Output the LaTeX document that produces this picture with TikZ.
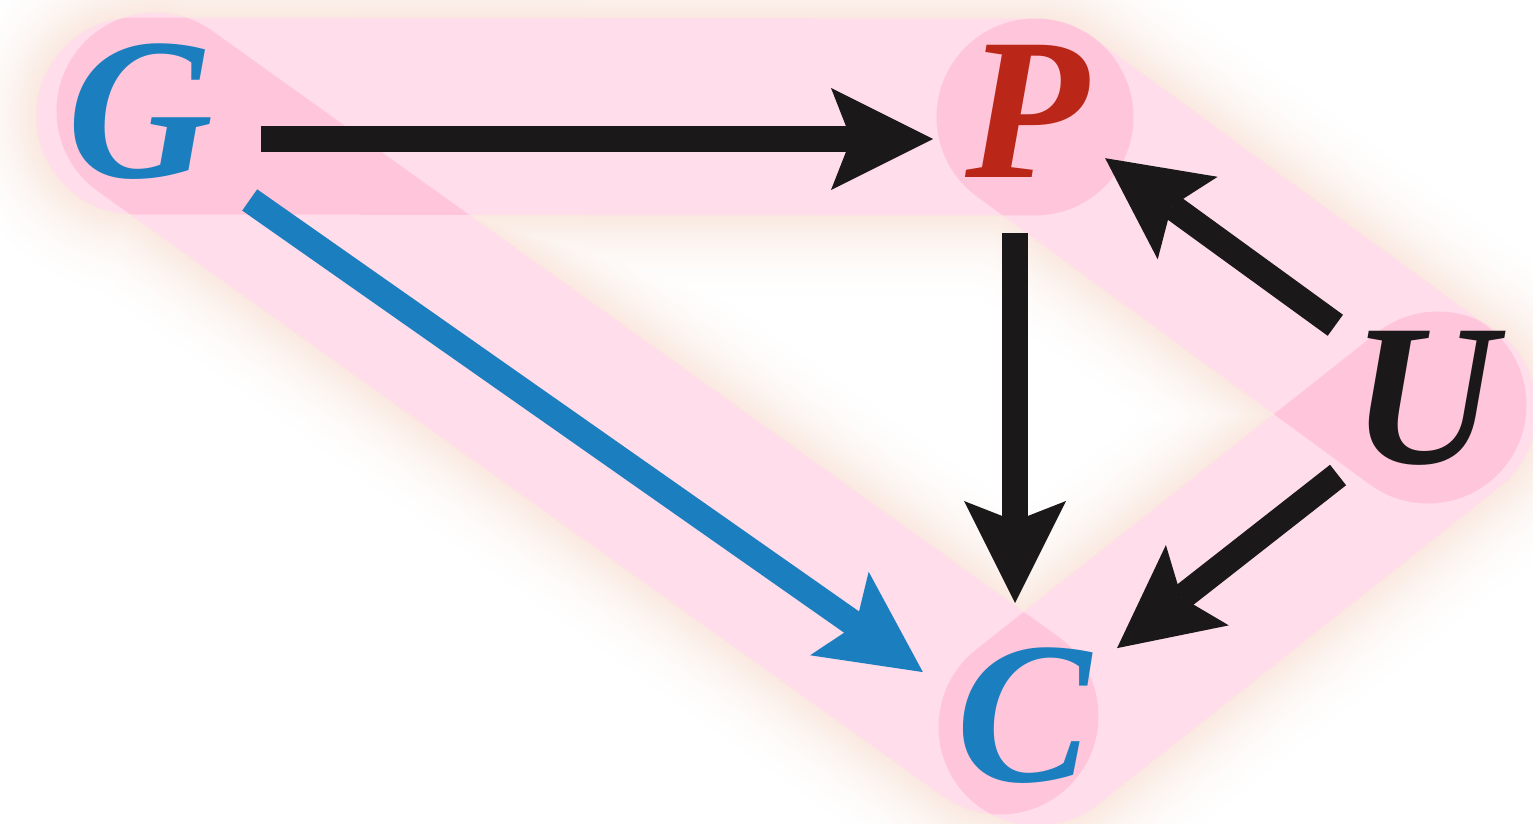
\documentclass[tikz,border=0pt]{standalone}
\usepackage{fontspec}
\setmainfont{Liberation Serif}
\usetikzlibrary{arrows.meta}
\definecolor{bandpink}{RGB}{255,150,190}
\definecolor{glowc}{RGB}{245,212,196}
\definecolor{gblue}{RGB}{27,127,191}
\definecolor{pred}{RGB}{186,39,24}
\definecolor{ublack}{RGB}{26,24,24}
\begin{document}
\begin{tikzpicture}[x=0.5pt,y=-0.5pt,
 band/.style={line width=98.5pt, line cap=round, bandpink, opacity=0.32},
 letter/.style={inner sep=0pt, font=\fontsize{101}{101}\selectfont\bfseries\itshape},
 conn/.style={line width=13pt, -{Stealth[length=51pt,width=51pt,inset=10pt,line width=0pt]}},
]
\useasboundingbox (0,0) rectangle (1533,824);
\fill[white] (0,0) rectangle (1533,824);
% band end points
\coordinate (gpA) at (135,116); \coordinate (gpB) at (1035,117);
\coordinate (gcA) at (155,111); \coordinate (gcB) at (1000,716);
\coordinate (puA) at (1035,117); \coordinate (puB) at (1428,405);
\coordinate (ucA) at (1438,410); \coordinate (ucB) at (1037,727);
% soft glow
\foreach \i in {0,...,29}{
  \pgfmathsetmacro\e{44-1.5*\i}
  \pgfmathsetmacro\w{98.5+2*\e}
  \pgfmathtruncatemacro\p{55*(1-\e/46)^2}
  \draw[line width=\w pt, line cap=round, glowc!\p!white]
    (gpA)--(gpB) (gcA)--(gcB) (puA)--(puB) (ucA)--(ucB);
}
\draw[line width=98.5pt, line cap=round, white]
  (gpA)--(gpB) (gcA)--(gcB) (puA)--(puB) (ucA)--(ucB);
% bands
\draw[band] (gpA)--(gpB);
\draw[band] (gcA)--(gcB);
\draw[band] (puA)--(puB);
\draw[band] (ucA)--(ucB);
% nodes
\node[letter, text=gblue] (G) at (140,112) {G};
\node[letter, text=pred] (P) at (1027,111) {P};
\node[letter, text=ublack] (U) at (1424,398) {U};
\node[letter, text=gblue] (C) at (1024,716) {C};
% connectors
\draw[conn, ublack, shorten <=60.5pt, shorten >=47pt] ([yshift=-13.5pt]G.center) -- ([yshift=-14pt]P.center);
\draw[conn, ublack, shorten <=61pt, shorten >=56.5pt] ([xshift=-6pt]P.center) -- ([xshift=-4.5pt]C.center);
\draw[conn, ublack, shorten <=58.5pt, shorten >=49.5pt] ([xshift=3pt,yshift=2pt]U.center) -- ([xshift=-1pt,yshift=5.5pt]P.center);
\draw[conn, ublack, shorten <=58.4pt, shorten >=59.1pt] ([xshift=3pt,yshift=-2.5pt]U.center) -- ([yshift=-2.5pt]C.center);
\draw[conn, gblue, shorten <=67pt, shorten >=61.75pt] ([yshift=-5.5pt]G.center) -- ([yshift=-13.5pt]C.center);
\end{tikzpicture}
\end{document}
